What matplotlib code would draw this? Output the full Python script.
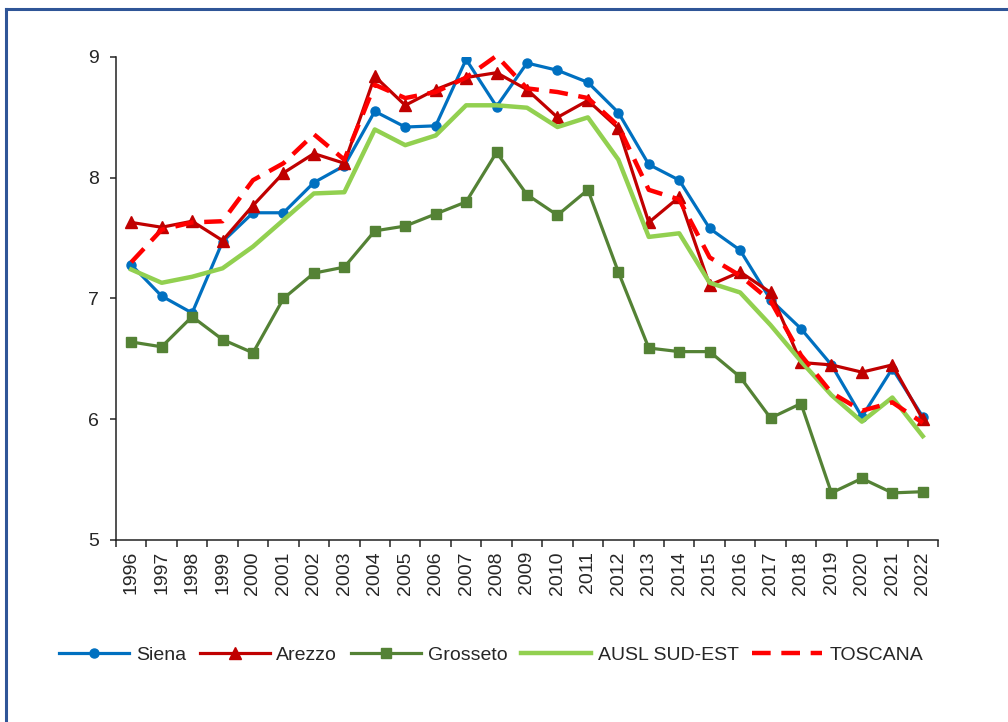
import numpy as np
import matplotlib
matplotlib.use('Agg')
import matplotlib.pyplot as plt
from matplotlib.lines import Line2D

plt.rcParams['font.family'] = ['Liberation Sans', 'DejaVu Sans']
plt.rcParams['text.color'] = '#262626'
plt.rcParams['xtick.color'] = '#262626'
plt.rcParams['ytick.color'] = '#262626'

# dati
anni = [str(a) for a in range(1996, 2023)]
siena = [7.28, 7.02, 6.88, 7.47, 7.71, 7.71, 7.96, 8.10, 8.55, 8.42, 8.43, 8.98, 8.59,
         8.95, 8.89, 8.79, 8.54, 8.11, 7.98, 7.58, 7.40, 6.99, 6.75, 6.45, 6.02, 6.42, 6.02]
arezzo = [7.63, 7.59, 7.64, 7.48, 7.77, 8.04, 8.20, 8.12, 8.84, 8.60, 8.73, 8.83, 8.87,
          8.73, 8.50, 8.64, 8.41, 7.63, 7.84, 7.11, 7.22, 7.05, 6.47, 6.45, 6.39, 6.45, 6.00]
grosseto = [6.64, 6.60, 6.85, 6.66, 6.55, 7.00, 7.21, 7.26, 7.56, 7.60, 7.70, 7.80, 8.21,
            7.86, 7.69, 7.90, 7.22, 6.59, 6.56, 6.56, 6.35, 6.01, 6.13, 5.39, 5.51, 5.39, 5.40]
ausl = [7.24, 7.13, 7.18, 7.25, 7.43, 7.65, 7.87, 7.88, 8.40, 8.27, 8.35, 8.60, 8.60,
        8.58, 8.42, 8.50, 8.15, 7.51, 7.54, 7.13, 7.05, 6.78, 6.48, 6.20, 5.98, 6.18, 5.86]
toscana = [7.30, 7.57, 7.63, 7.64, 7.98, 8.12, 8.36, 8.15, 8.77, 8.66, 8.71, 8.83, 9.01,
           8.74, 8.71, 8.66, 8.43, 7.90, 7.82, 7.34, 7.19, 6.98, 6.53, 6.22, 6.07, 6.14, 5.97]

x = np.arange(len(anni))

fig = plt.figure(figsize=(10.08, 7.22), dpi=100)
ax = fig.add_axes([116/1008, 1-540/722, 822/1008, 483/722])

ax.plot(x, siena, color='#0070C0', lw=2.3, marker='o', ms=6.5, label='Siena', zorder=3)
ax.plot(x, arezzo, color='#C00000', lw=2.3, marker='^', ms=8.5, label='Arezzo', zorder=4)
ax.plot(x, grosseto, color='#548235', lw=2.3, marker='s', ms=6.5, label='Grosseto', zorder=5)
ax.plot(x, ausl, color='#92D050', lw=3.2, label='AUSL SUD-EST', zorder=6)
ax.plot(x, toscana, color='#FF0000', lw=3.2, ls=(0, (4.2, 2.4)), label='TOSCANA',
        zorder=7, clip_on=False)

ax.set_xlim(-0.5, len(anni) - 0.5)
ax.set_ylim(5, 9)
ax.set_yticks([5, 6, 7, 8, 9])
ax.set_xticks(x)
ax.set_xticklabels(anni, rotation=90, fontsize=14)
ax.set_xticks(np.arange(-0.5, len(anni)), minor=True)
ax.tick_params(axis='x', which='major', length=0, pad=8)
ax.tick_params(axis='x', which='minor', length=5, width=1.1, direction='out')
ax.tick_params(axis='y', length=4.5, width=1.1, pad=8, labelsize=14)

for s in ['top', 'right']:
    ax.spines[s].set_visible(False)
for s in ['left', 'bottom']:
    ax.spines[s].set_linewidth(1.1)
    ax.spines[s].set_color('#222222')

fig.legend(loc='center', bbox_to_anchor=(491/1008, 1-655/722), ncol=5, frameon=False,
           fontsize=14, handlelength=3.6, handletextpad=0.35, columnspacing=0.7)

# cornice
fig.add_artist(Line2D([6/1008, 1.0], [1-9/722, 1-9/722], transform=fig.transFigure,
                      color='#2F5597', lw=2.2))
fig.add_artist(Line2D([6/1008, 6/1008], [0, 1-9/722], transform=fig.transFigure,
                      color='#2F5597', lw=2.2))

fig.savefig('out.png', dpi=100)
